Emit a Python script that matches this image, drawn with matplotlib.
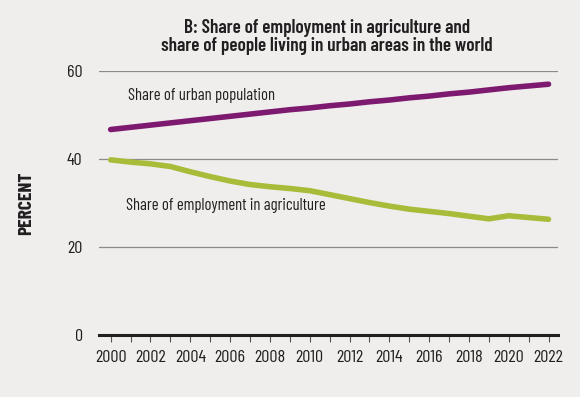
import matplotlib
matplotlib.use("Agg")
import matplotlib.pyplot as plt

years = list(range(2000, 2023))
urban_share = [46.7, 47.2, 47.7, 48.2, 48.7, 49.2, 49.7, 50.2, 50.7, 51.2, 51.6,
               52.1, 52.5, 53.0, 53.4, 53.9, 54.3, 54.8, 55.2, 55.7, 56.2, 56.6, 57.0]
agri_share = [39.8, 39.3, 38.9, 38.3, 37.1, 36.0, 35.0, 34.2, 33.7, 33.3, 32.8,
              31.9, 31.0, 30.1, 29.3, 28.6, 28.1, 27.6, 27.0, 26.4, 27.1, 26.7, 26.3]
tick_years = list(range(2000, 2023, 2))
y_ticks = [0, 20, 40, 60]

bg = "#efeeed"
purple = "#7d1a6f"
green = "#a9bc3a"
txt = "#231f20"

plt.rcParams['font.family'] = ['Barlow Condensed', 'Roboto Condensed', 'DejaVu Sans']

fig = plt.figure(figsize=(5.8, 3.97), dpi=100, facecolor=bg)
# axes box in pixels: x 99..558, y 71..335
ax = fig.add_axes([99.3 / 580, 1 - 335 / 397, 459 / 580, 264 / 397], facecolor=bg)

ax.plot(years, urban_share, color=purple, lw=4, solid_capstyle="round", zorder=3)
ax.plot(years, agri_share, color=green, lw=4, solid_capstyle="round", zorder=3)

ax.set_xlim(1999.43, 2022.49)
ax.set_ylim(0, 60)

for v in y_ticks[1:]:
    ax.axhline(v, color="#8a8a8a", lw=0.9, zorder=1)
ax.axhline(0, color=txt, lw=2.2, zorder=2, clip_on=False)

for s in ax.spines.values():
    s.set_visible(False)

ax.set_xticks(years)
ax.set_xticklabels([str(y) if y in tick_years else "" for y in years])
ax.tick_params(axis="x", length=5, width=0.8, color="#555555", direction="out",
               labelsize=13, labelcolor=txt, pad=6)
ax.set_yticks(y_ticks)
ax.tick_params(axis="y", length=0, labelsize=13, labelcolor=txt, pad=12)

ax.set_ylabel("PERCENT", fontsize=14, fontweight="bold", color=txt)
ax.yaxis.set_label_coords(-0.140, 0.5)

ax.text(2000.85, 54.4, "Share of urban population", fontsize=12, color=txt,
        va="center", ha="left")
ax.text(2000.78, 29.5, "Share of employment in agriculture", fontsize=12, color=txt,
        va="center", ha="left")

fig.text(327 / 580, 1 - 37 / 397,
         "B: Share of employment in agriculture and\nshare of people living in urban areas in the world",
         ha="center", va="center", fontsize=13.8, fontweight="semibold", color=txt,
         linespacing=1.05)

fig.savefig("out.png", dpi=100, facecolor=bg)
